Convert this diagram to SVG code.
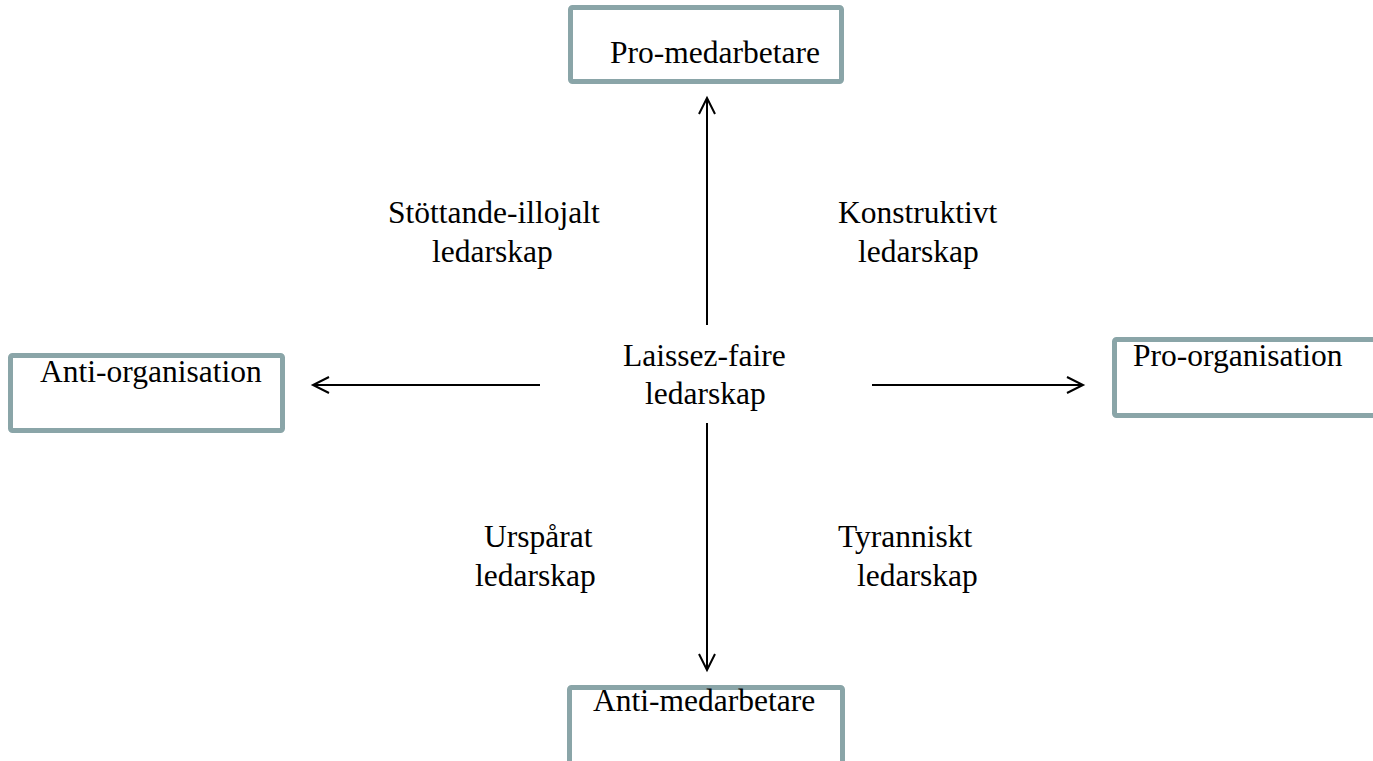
<svg xmlns="http://www.w3.org/2000/svg" width="1373" height="761" viewBox="0 0 1373 761">
<style>
.box{fill:#ffffff;stroke:#8aa5a8;stroke-width:5;}
.t{font-family:"Liberation Serif","Times New Roman",serif;font-size:31.5px;fill:#000000;}
.c{stroke:#000000;stroke-width:2;fill:none;}
</style>
<defs>
<marker id="ah" markerWidth="20" markerHeight="20" refX="17" refY="9" orient="auto" markerUnits="userSpaceOnUse">
<path d="M1,1 L17,9 L1,17" fill="none" stroke="#000000" stroke-width="2"/>
</marker>
</defs>
<rect width="1373" height="761" fill="#ffffff"/>
<g id="connectors">
<line class="c" x1="707" y1="325" x2="707" y2="98" marker-end="url(#ah)"/>
<line class="c" x1="707" y1="423" x2="707" y2="670" marker-end="url(#ah)"/>
<line class="c" x1="540" y1="385" x2="313" y2="385" marker-end="url(#ah)"/>
<line class="c" x1="872" y1="385" x2="1083" y2="385" marker-end="url(#ah)"/>
</g>
<g id="node-pro-medarbetare">
<rect class="box" x="570.5" y="7.5" width="271" height="74" rx="2"/>
<text class="t" x="610" y="63">Pro-medarbetare</text>
</g>
<g id="node-anti-organisation">
<rect class="box" x="10.5" y="355.5" width="272" height="75" rx="2"/>
<text class="t" x="40" y="382">Anti-organisation</text>
</g>
<g id="node-pro-organisation">
<rect class="box" x="1114.5" y="339.5" width="280" height="76" rx="2"/>
<text class="t" x="1133" y="366">Pro-organisation</text>
</g>
<g id="node-anti-medarbetare">
<rect class="box" x="569.5" y="687.5" width="273" height="90" rx="2"/>
<text class="t" x="593" y="711">Anti-medarbetare</text>
</g>
<g id="node-laissez-faire">
<text class="t" x="623" y="366">Laissez-faire</text>
<text class="t" x="645" y="404">ledarskap</text>
</g>
<g id="label-stottande">
<text class="t" x="388" y="223">Stöttande-illojalt</text>
<text class="t" x="432" y="262">ledarskap</text>
</g>
<g id="label-konstruktivt">
<text class="t" x="838" y="223">Konstruktivt</text>
<text class="t" x="858" y="262">ledarskap</text>
</g>
<g id="label-ursparat">
<text class="t" x="484" y="547">Urspårat</text>
<text class="t" x="475" y="586">ledarskap</text>
</g>
<g id="label-tyranniskt">
<text class="t" x="838" y="547">Tyranniskt</text>
<text class="t" x="857" y="586">ledarskap</text>
</g>
</svg>
